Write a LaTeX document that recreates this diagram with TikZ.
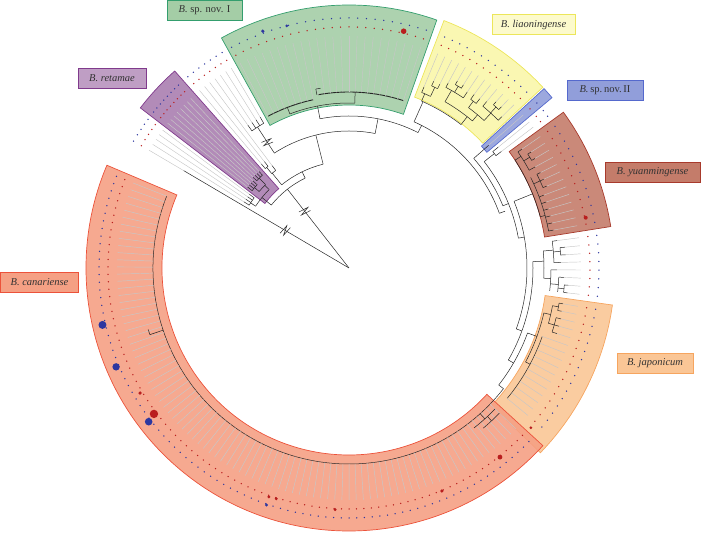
\documentclass[tikz,border=0pt]{standalone}
\usepackage{fontspec}
\setmainfont{Liberation Serif}
\usepackage{xcolor}
\usepackage{tikz}
\definecolor{NovI}{RGB}{164,205,166}  \definecolor{NovIe}{RGB}{52,158,110}
\definecolor{Liao}{RGB}{250,246,170}  \definecolor{Liaoe}{RGB}{236,230,90}
\definecolor{NovII}{RGB}{145,158,218} \definecolor{NovIIe}{RGB}{85,105,205}
\definecolor{Yuan}{RGB}{196,124,106}  \definecolor{Yuane}{RGB}{168,58,44}
\definecolor{Japo}{RGB}{250,198,150}  \definecolor{Japoe}{RGB}{246,165,95}
\definecolor{Cana}{RGB}{245,160,132}  \definecolor{Canae}{RGB}{236,82,58}
\definecolor{Reta}{RGB}{170,126,176}  \definecolor{Retae}{RGB}{128,58,140}
\definecolor{DotR}{RGB}{185,30,30}    \definecolor{DotB}{RGB}{45,55,160}

% band: fill, edge, from angle, to angle, inner r, outer r
\newcommand{\cladeband}[6]{\filldraw[fill=#1, draw=#2, line width=0.7pt, fill opacity=0.9]
  (#3:#5) arc[start angle=#3, end angle=#4, radius=#5] -- (#4:#6)
  arc[start angle=#4, end angle=#3, radius=#6] -- cycle;}
% arc of a node: radius, from, to
\newcommand{\tarc}[3]{\draw[twig] (#2:#1) arc[start angle=#2, end angle=#3, radius=#1];}
% radial branch: angle, r1, r2
\newcommand{\tstem}[3]{\draw[twig] (#1:#2) -- (#1:#3);}
% leaf: angle, node r, tip r
\newcommand{\tleaf}[3]{\draw[twig] (#1:#2) -- (#1:#3);
  \draw[tip] (#1:#3) -- (#1:232);
  \fill[DotR] (#1:241) circle[radius=0.75];
  \fill[DotB] (#1:250) circle[radius=0.75];}
% broken branch mark: angle, r
\newcommand{\tbreak}[2]{\draw[twig, shift={(#1:#2)}, rotate=#1] (-3,-5) -- (-1,5) -- (1,-5) -- (3,5);}

\begin{document}
\begin{tikzpicture}[x=1pt, y=1pt,
  twig/.style={draw=black!85, line width=0.5pt},
  tip/.style={draw=black!22, line width=0.45pt},
  tag/.style={draw, line width=0.7pt, font=\fontsize{10.5}{12}\selectfont, text=black!80,
              inner sep=0pt, minimum height=20pt},
]
\useasboundingbox (-349,-269) rectangle (368,268);

% clade bands
\cladeband{Japo}{Japoe}{-44}{-8}{198}{266}
\cladeband{Cana}{Canae}{157}{317.5}{187}{263}
\cladeband{NovI}{NovIe}{70.5}{119}{163}{263}
\cladeband{Liao}{Liaoe}{43}{69}{183}{265}
\cladeband{NovII}{NovIIe}{40}{42.6}{180}{265}
\cladeband{Yuan}{Yuane}{9}{36}{198}{265}
\cladeband{Reta}{Retae}{131.5}{142.5}{106}{263}

% root and long branches
\coordinate (root) at (0,0);
\draw[twig] (root) -- (128:100);
\draw[twig] (root) -- (149.5:192);
\tbreak{128}{72}
\tbreak{149.5}{74}
\tleaf{149.5}{192}{192}

\tarc{100}{141}{116}
\tstem{141}{100}{112}
\tarc{112}{146.5}{135.5}
\tstem{146.5}{112}{118}
\tarc{118}{147.8}{143.5}
\foreach \a in {143.5,144.9,146.3,147.8} {\tleaf{\a}{118}{124}}

% retamae
\tstem{135.5}{112}{118}
\tarc{118}{139.6}{135}
\tstem{139.6}{118}{124}
\tarc{124}{141.4}{137.8}
\foreach \a in {137.8,139,140.2,141.4} {\tleaf{\a}{124}{130}}
\tstem{135}{118}{127}
\tarc{127}{136.6}{133}
\foreach \a in {133,134.2,135.4,136.6} {\tleaf{\a}{127}{132}}

\tstem{116}{100}{107}
\tarc{107}{129}{104}
\tstem{129}{107}{122}
\tarc{122}{129.3}{126.9}
\tleaf{126.9}{122}{128}
\tstem{129.3}{122}{130}
\tarc{130}{130.1}{128.5}
\tleaf{128.5}{130}{136}
\tleaf{130.1}{130}{136}

\tstem{104}{107}{137}
\tarc{137}{123}{79}
\tstem{123}{137}{168}
\tbreak{123}{150}
\tarc{168}{125.3}{120.5}
\foreach \a in {120.5,122.1,123.7,125.3} {\tleaf{\a}{168}{175}}

% sp. nov. I
\tstem{79}{137}{152}
\tarc{152}{101}{63}
\tstem{101}{152}{165}
\tarc{165}{111}{88}
\tstem{111}{165}{172}
\draw[twig, line width=0.9pt] (118:172) arc[start angle=118, end angle=102, radius=172];
\foreach \a in {102,104,...,118} {\tleaf{\a}{172}{172}}
\tstem{88}{165}{176}
\draw[twig, line width=0.9pt] (100:176) arc[start angle=100, end angle=72, radius=176];
\foreach \a in {72,74,...,100} {\tleaf{\a}{176}{176}}
\tstem{100.5}{176}{182}
\tarc{182}{100.5}{99}

% liaoningense
\tstem{63}{152}{160}
\tarc{160}{66}{20}
\tstem{66}{160}{182}
\tarc{182}{66.5}{52}
\tstem{66.5}{182}{190}
\tarc{190}{67.5}{64.6}
\tleaf{67.5}{190}{196}
\tstem{64.6}{190}{200}
\tarc{200}{65.6}{63.7}
\tleaf{65.6}{200}{205} \tleaf{63.7}{200}{205}
\tstem{52}{182}{192}
\tarc{192}{60}{50}
\tstem{60}{192}{205}
\tarc{205}{61.8}{56.1}
\tleaf{61.8}{205}{210} \tleaf{56.1}{205}{212}
\tstem{59}{205}{212}
\tarc{212}{59.9}{58}
\tleaf{59.9}{212}{216} \tleaf{58}{212}{216}
\tstem{50}{192}{200}
\tarc{200}{53.3}{47.5}
\tstem{53.3}{200}{208}
\tarc{208}{54.2}{52.3}
\tleaf{54.2}{208}{214} \tleaf{52.3}{208}{214}
\tstem{47.5}{200}{210}
\tarc{210}{50.4}{44.7}
\tleaf{50.4}{210}{216} \tleaf{44.7}{210}{215}
\tstem{47.6}{210}{218}
\tarc{218}{48.5}{46.6}
\tleaf{48.5}{218}{222} \tleaf{46.6}{218}{222}

% sp. nov. II and neighbours
\tstem{20}{160}{166}
\tarc{166}{41.3}{22}
\tleaf{41.3}{166}{186}
\tstem{22}{166}{172}
\tarc{172}{38.2}{10}
\tstem{38.2}{172}{185}
\tarc{185}{39}{37.4}
\tleaf{39}{185}{192} \tleaf{37.4}{185}{192}

% yuanmingense
\tstem{10}{172}{178}
\tarc{178}{22}{-20}
\tstem{22}{178}{198}
\tarc{198}{33}{15}
\tstem{33}{198}{205}
\tarc{205}{34.5}{28.5}
\tleaf{34.5}{205}{210} \tleaf{28.5}{205}{212}
\tstem{31.5}{205}{212}
\tarc{212}{32.5}{30.5}
\tleaf{32.5}{212}{216} \tleaf{30.5}{212}{216}
\tstem{15}{198}{203}
\tarc{203}{26.5}{10.5}
\foreach \a in {10.5,12.5,14.5,16.5,18.5,20.5} {\tleaf{\a}{203}{208}}
\tstem{24.5}{203}{210}
\tarc{210}{26.5}{22.5}
\foreach \a in {26.5,24.5,22.5} {\tleaf{\a}{210}{214}}

% unnamed clade
\tstem{-20}{178}{184}
\tarc{184}{2}{-30}
\tstem{2}{184}{195}
\tarc{195}{5}{-3}
\tstem{5}{195}{205}
\tarc{205}{7.5}{1.5}
\tleaf{7.5}{205}{210} \tleaf{1.5}{205}{212}
\tstem{4.5}{205}{212}
\tarc{212}{5.5}{3.5}
\tleaf{5.5}{212}{217} \tleaf{3.5}{212}{217}
\tstem{-3}{195}{202}
\tarc{202}{-0.5}{-6.5}
\tleaf{-0.5}{202}{208}
\tstem{-4.5}{202}{210}
\tarc{210}{-2.5}{-6.5}
\tleaf{-2.5}{210}{215}
\tstem{-5.5}{210}{216}
\tarc{216}{-4.5}{-6.5}
\tleaf{-4.5}{216}{220} \tleaf{-6.5}{216}{220}

% japonicum
\tstem{-30}{184}{190}
\tarc{190}{-20}{-38}
\tstem{-20}{190}{200}
\tarc{200}{-13}{-28}
\tstem{-13}{200}{207}
\tarc{207}{-10.5}{-15.5}
\tstem{-10.5}{207}{213}
\tarc{213}{-9.5}{-11.5}
\tleaf{-9.5}{213}{217} \tleaf{-11.5}{213}{217}
\tstem{-15.5}{207}{213}
\tarc{213}{-13.5}{-17.5}
\foreach \a in {-13.5,-15.5,-17.5} {\tleaf{\a}{213}{218}}
\tstem{-28}{200}{205}
\tarc{205}{-19.5}{-39.5}
\foreach \a in {-19.5,-21.5,...,-39.5} {\tleaf{\a}{205}{205}}

% canariense
\tstem{-38}{190}{196}
\tarc{196}{158.5}{322}
\foreach \i in {0,...,89} {\pgfmathsetmacro\a{158.5+1.77*\i}\tleaf{\a}{196}{196}}
\tstem{312}{196}{203}
\tarc{203}{308}{316}
\tstem{313}{203}{209}
\tarc{209}{310}{316}
\tstem{198.5}{196}{210}
\tarc{210}{198.5}{197}

% larger dots
\fill[DotB] (193:253) circle[radius=4];
\fill[DotB] (203:253) circle[radius=3.7];
\fill[DotR] (216.8:243.6) circle[radius=4.2];
\fill[DotB] (217.5:252.5) circle[radius=3.8];
\fill[DotR] (210.9:243.5) circle[radius=1.8];
\fill[DotB] (110:252) circle[radius=1.8];
\fill[DotB] (104.4:250) circle[radius=1.5];
\fill[DotR] (77:243) circle[radius=2.8];
\fill[DotR] (12:242) circle[radius=2];
\fill[DotR] (-41.3:242) circle[radius=1.5];
\fill[DotR] (308.6:242) circle[radius=2.4];
\fill[DotR] (292.6:241.6) circle[radius=1.8];
\fill[DotR] (250.7:242.5) circle[radius=1.6];
\fill[DotR] (252.5:242) circle[radius=1.6];
\fill[DotR] (266.7:242) circle[radius=1.6];
\fill[DotB] (250.8:251) circle[radius=1.6];

% labels
\node[tag, fill=NovI, draw=NovIe, minimum width=75pt] (novI) at (-144.5,257.5) {\textit{B.} sp. nov. I};
\node[tag, fill=Reta!75, draw=Retae, minimum width=68pt] (reta) at (-237,189.5) {\textit{B. retamae}};
\node[tag, fill=Liao!60, draw=Liaoe, minimum width=83pt] (liao) at (184.5,243.5) {\textit{B. liaoningense}};
\node[tag, fill=NovII, draw=NovIIe, minimum width=76pt] (novII) at (256,178) {\textit{B.}\,sp.\,nov.\,II};
\node[tag, fill=Yuan, draw=Yuane, minimum width=95pt] (yuan) at (303.5,95.5) {\textit{B. yuanmingense}};
\node[tag, fill=Japo, draw=Japoe, minimum width=76pt] (japo) at (306,-95) {\textit{B. japonicum}};
\node[tag, fill=Cana, draw=Canae, minimum width=78pt] (cana) at (-309.5,-14.5) {\textit{B. canariense}};
\end{tikzpicture}
\end{document}
